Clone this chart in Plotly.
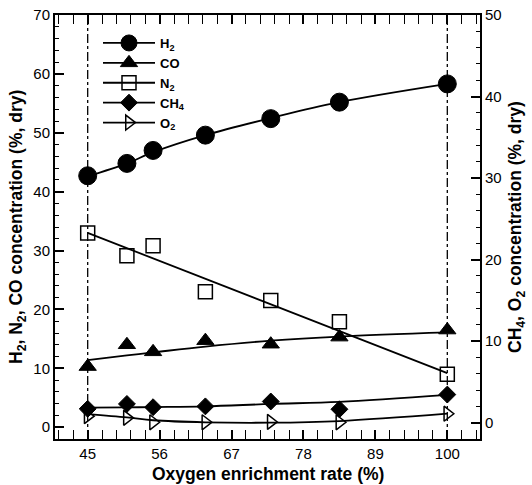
import plotly.graph_objects as go

# Oxygen enrichment rate (%)
x_vals = [45, 51, 55, 63, 73, 83.5, 100]

# Left axis (%, dry)
h2 = [42.7, 44.8, 47.0, 49.6, 52.4, 55.2, 58.3]
co = [10.3, 14.0, 12.8, 14.7, 14.1, 15.3, 16.5]
n2 = [33.0, 29.1, 30.8, 23.0, 21.5, 17.9, 9.0]
# Right axis (%, dry)
ch4 = [1.7, 2.3, 1.9, 2.0, 2.6, 1.65, 3.45]
o2 = [0.8, 0.6, 0.05, 0.05, 0.1, 0.05, 1.1]

# Trend lines
fit_x = [45, 51, 55, 63, 73, 83.5, 100]
h2_fit = [42.6, 44.8, 46.7, 49.6, 52.5, 55.2, 58.3]
co_fit = [11.4, 12.2, 12.7, 13.7, 14.7, 15.4, 16.1]
ch4_fit = [1.85, 1.88, 1.92, 2.0, 2.3, 2.55, 3.4]
o2_fit = [1.05, 0.65, 0.3, 0.05, 0.0, 0.2, 1.1]
n2_fit_x = [45, 100]
n2_fit = [33.0, 9.2]

ref_lines = [45, 100]
x_ticks = [45, 56, 67, 78, 89, 100]

names = ["H<sub>2</sub>", "CO", "N<sub>2</sub>", "CH<sub>4</sub>", "O<sub>2</sub>"]
x_title = "Oxygen enrichment rate (%)"
y_title = "H<sub>2</sub>, N<sub>2</sub>, CO concentration (%, dry)"
y2_title = "CH<sub>4</sub>, O<sub>2</sub> concentration (%, dry)"

K = "black"
fig = go.Figure()

styles = [
    dict(symbol="circle", size=18, color=K, line=dict(color=K, width=1)),
    dict(symbol="triangle-up", size=15, color=K, line=dict(color=K, width=1)),
    dict(symbol="square-open", size=14, color=K, line=dict(color=K, width=1.5)),
    dict(symbol="diamond", size=13, color=K, line=dict(color=K, width=1)),
    dict(symbol="triangle-right-open", size=13, color=K, line=dict(color=K, width=1.5)),
]

# trend lines
fig.add_trace(go.Scatter(x=fit_x, y=h2_fit, mode="lines", line=dict(color=K, width=1.8, shape="spline"), showlegend=False))
fig.add_trace(go.Scatter(x=fit_x, y=co_fit, mode="lines", line=dict(color=K, width=1.8, shape="spline"), showlegend=False))
fig.add_trace(go.Scatter(x=n2_fit_x, y=n2_fit, mode="lines", line=dict(color=K, width=1.8), showlegend=False))
fig.add_trace(go.Scatter(x=fit_x, y=ch4_fit, mode="lines", line=dict(color=K, width=1.8, shape="spline"), showlegend=False, yaxis="y2"))
fig.add_trace(go.Scatter(x=fit_x, y=o2_fit, mode="lines", line=dict(color=K, width=1.8, shape="spline"), showlegend=False, yaxis="y2"))

# markers
series = [(h2, "y"), (co, "y"), (n2, "y"), (ch4, "y2"), (o2, "y2")]
for (vals, ax), st in zip(series, styles):
    fig.add_trace(go.Scatter(x=x_vals, y=vals, mode="markers", marker=st, showlegend=False, yaxis=ax))

# legend entries
for name, st in zip(names, styles):
    fig.add_trace(go.Scatter(x=[None], y=[None], mode="lines+markers", name=name,
                             marker=st, line=dict(color=K, width=1.8)))

for xv in ref_lines:
    fig.add_shape(type="line", xref="x", yref="paper", x0=xv, x1=xv, y0=0, y1=1,
                  line=dict(color=K, width=1.3, dash="dashdot"))

tickfont = dict(family="Liberation Sans, Arial", size=15, color=K)
titlefont = dict(family="Liberation Sans, Arial", size=17.5, color=K, weight="bold")

L, R, T, B = 55, 52, 15, 46
W, H = 532, 485
pw, ph = W - L - R, H - T - B

fig.add_annotation(text=x_title, xref="paper", yref="paper", x=0.5, y=-(474 - (H - B)) / ph,
                   showarrow=False, font=titlefont, xanchor="center", yanchor="middle")
fig.add_annotation(text=y_title, xref="paper", yref="paper", x=(17 - L) / pw, y=0.5,
                   showarrow=False, font=titlefont, textangle=-90, xanchor="center", yanchor="middle")
fig.add_annotation(text=y2_title, xref="paper", yref="paper", x=(516 - L) / pw, y=0.5,
                   showarrow=False, font=titlefont, textangle=-90, xanchor="center", yanchor="middle")

fig.update_layout(
    width=W, height=H,
    margin=dict(l=L, r=R, t=T, b=B, autoexpand=False),
    paper_bgcolor="white", plot_bgcolor="white",
    showlegend=True,
    legend=dict(x=(98 - L) / pw, y=1 - (28 - T) / ph, xanchor="left", yanchor="top",
                bgcolor="rgba(0,0,0,0)",
                font=dict(family="Liberation Sans, Arial", size=13, color=K, weight="bold"),
                tracegroupgap=0, itemwidth=52),
    xaxis=dict(range=[40, 105], tickvals=x_ticks, ticks="inside", ticklen=9, tickwidth=2,
               showline=True, linecolor=K, linewidth=2, mirror="allticks", showgrid=False,
               zeroline=False, tickfont=tickfont, automargin=False,
               minor=dict(tick0=45, dtick=2.2, ticks="inside", ticklen=4, tickwidth=1, tickcolor=K),
               tickcolor=K),
    yaxis=dict(range=[-2, 70], dtick=10, tick0=0, ticks="inside", ticklen=9, tickwidth=2,
               showline=True, linecolor=K, linewidth=2, showgrid=False, zeroline=False,
               tickfont=tickfont, tickcolor=K, automargin=False,
               minor=dict(dtick=2, tick0=0, ticks="inside", ticklen=4, tickwidth=1, tickcolor=K)),
    yaxis2=dict(range=[-2, 50], dtick=10, tick0=0, ticks="inside", ticklen=9, tickwidth=2,
                overlaying="y", side="right", automargin=False,
                showline=True, linecolor=K, linewidth=2, showgrid=False, zeroline=False,
                tickfont=tickfont, tickcolor=K,
                minor=dict(dtick=2, tick0=0, ticks="inside", ticklen=4, tickwidth=1, tickcolor=K)),
)

fig.write_html("out.html", config={"displayModeBar": False},
               post_script="document.body.style.margin='0';document.body.style.overflow='hidden';")
